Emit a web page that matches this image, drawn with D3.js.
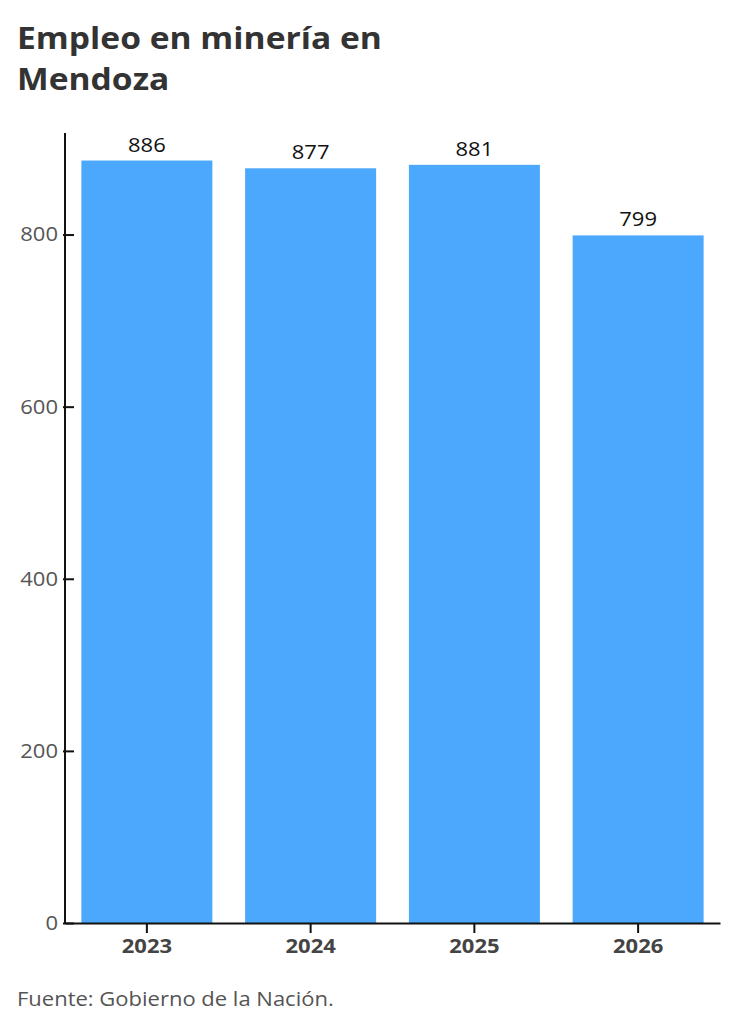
<!DOCTYPE html>
<html>
<head>
<meta charset="utf-8">
<script src="https://cdn.jsdelivr.net/npm/d3@7"></script>
<style>
  body { margin: 0; background: #fff; }
  svg { display: block; font-family: "Open Sans", sans-serif; }
</style>
</head>
<body>
<div id="chart"></div>
<script>
const years = ['2023', '2024', '2025', '2026'];
const workers = [886, 877, 881, 799];
const yTicks = [0, 200, 400, 600, 800];

const width = 734;
const height = 1024;
const margin = { left: 65, right: 14, top: 133, bottom: 101 };
// the reference type is a bit wider than Open Sans
const stretch = 'scale(1.1,1)';

const svg = d3.select('#chart')
  .append('svg')
  .attr('width', width)
  .attr('height', height);

// Title
svg.append('text')
  .attr('transform', 'translate(17,49) scale(1.12,1)')
  .attr('font-size', '30px')
  .attr('font-weight', 'bold')
  .attr('fill', '#333')
  .text('Empleo en minería en');
svg.append('text')
  .attr('transform', 'translate(17,90) scale(1.12,1)')
  .attr('font-size', '30px')
  .attr('font-weight', 'bold')
  .attr('fill', '#333')
  .text('Mendoza');

// X Scale
const x = d3.scaleBand()
  .domain(years)
  .range([margin.left, width - margin.right])
  .paddingInner(0.2)
  .paddingOuter(0.1);

// Y Scale
const y = d3.scaleLinear()
  .domain([0, 918])
  .range([height - margin.bottom, margin.top]);

// bars
svg.selectAll('rect.bar')
  .data(years)
  .enter()
  .append('rect')
  .attr('class', 'bar')
  .attr('x', d => x(d))
  .attr('width', x.bandwidth())
  .attr('y', (d, i) => y(workers[i]))
  .attr('height', (d, i) => y(0) - y(workers[i]))
  .attr('fill', '#4ba8fd');

// value labels
svg.selectAll('text.value')
  .data(years)
  .enter()
  .append('text')
  .attr('class', 'value')
  .attr('transform', (d, i) => 'translate(' + (x(d) + x.bandwidth() / 2) + ',' + (y(workers[i]) - 9) + ') ' + stretch)
  .attr('text-anchor', 'middle')
  .attr('font-size', '20px')
  .attr('fill', '#111')
  .text((d, i) => workers[i]);

// Y Axis
const yAxis = svg.append('g')
  .attr('transform', 'translate(' + margin.left + ',0)')
  .call(d3.axisLeft(y).tickValues(yTicks).tickSize(0).tickPadding(0));
yAxis.select('.domain').remove();
yAxis.selectAll('text')
  .attr('x', null)
  .attr('transform', 'translate(-7,0) ' + stretch)
  .attr('font-size', '20px')
  .attr('fill', '#555')
  .attr('font-family', '"Open Sans", sans-serif');
yAxis.selectAll('.tick')
  .append('line')
  .attr('x1', -2)
  .attr('x2', 9)
  .attr('stroke', '#111')
  .attr('stroke-width', 2);
yAxis.append('line')
  .attr('x1', 0)
  .attr('x2', 0)
  .attr('y1', margin.top)
  .attr('y2', y(0) + 1)
  .attr('stroke', '#111')
  .attr('stroke-width', 2);

// X Axis
const xAxis = svg.append('g')
  .attr('transform', 'translate(0,' + y(0) + ')')
  .call(d3.axisBottom(x).tickSize(10).tickPadding(6).tickSizeOuter(0));
xAxis.select('.domain')
  .attr('stroke', '#111')
  .attr('stroke-width', 2);
xAxis.selectAll('.tick line')
  .attr('stroke', '#111')
  .attr('stroke-width', 2);
xAxis.selectAll('text')
  .attr('transform', stretch)
  .attr('font-size', '20px')
  .attr('font-weight', 'bold')
  .attr('fill', '#444')
  .attr('font-family', '"Open Sans", sans-serif');

// source
svg.append('text')
  .attr('transform', 'translate(17,1006) ' + stretch)
  .attr('font-size', '20px')
  .attr('fill', '#555')
  .text('Fuente: Gobierno de la Nación.');
</script>
</body>
</html>
